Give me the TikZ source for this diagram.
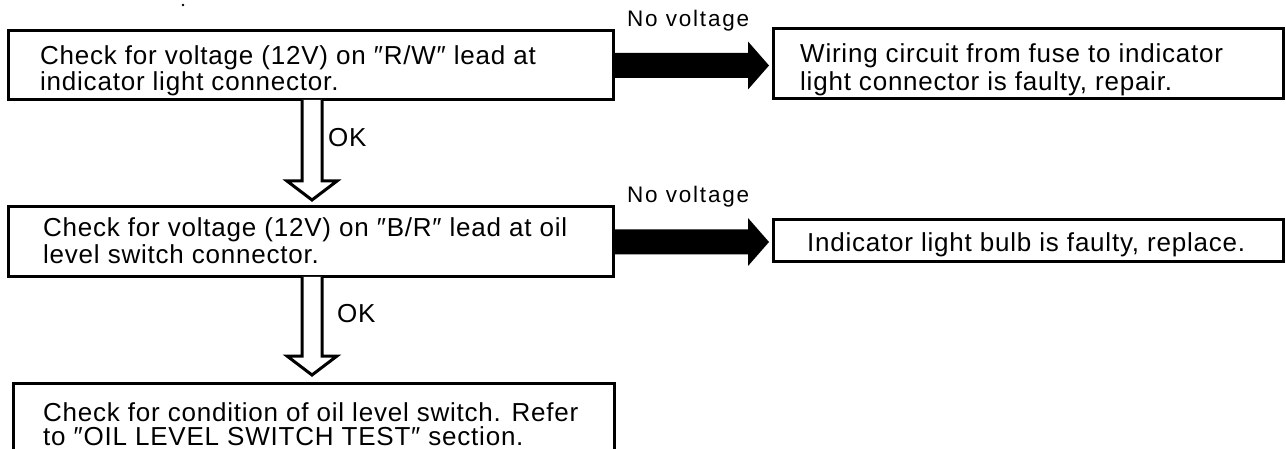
\documentclass[tikz,border=0pt]{standalone}
\usepackage{fontspec}
\setmainfont{Liberation Sans}[LetterSpace=3]
\usetikzlibrary{calc}
\newcommand\mfs{\fontsize{26pt}{28pt}\selectfont}
\newcommand\lfs{\fontsize{22.5pt}{24pt}\selectfont\addfontfeatures{LetterSpace=8}}
\newcommand\hollowarr[2]{\draw[hollow] ([xshift=-10pt]#1) -- ([xshift=-10pt,yshift=19pt]#2) -- ([xshift=-25pt,yshift=19pt]#2) -- (#2) -- ([xshift=25pt,yshift=19pt]#2) -- ([xshift=10pt,yshift=19pt]#2) -- ([xshift=10pt]#1);}
\newcommand\thickarr[2]{\fill ([yshift=12.5pt]#1) -- ([xshift=-21pt,yshift=12.5pt]#2) -- ([xshift=-21pt,yshift=24pt]#2) -- (#2) -- ([xshift=-21pt,yshift=-24pt]#2) -- ([xshift=-21pt,yshift=-12.5pt]#2) -- ([yshift=-12.5pt]#1) -- cycle;}
\begin{document}
\begin{tikzpicture}[x=1pt,y=-1pt,
  box/.style={draw, line width=3pt, inner sep=0pt, outer sep=0pt, anchor=north west},
  txt/.style={anchor=base west, inner sep=0pt, font=\mfs},
  lbl/.style={anchor=base west, inner sep=0pt, font=\lfs},
  hollow/.style={draw, line width=3pt, fill=white, line join=miter}]
\useasboundingbox (0,0) rectangle (1286,449);
\clip (0,0) rectangle (1286,449);
\fill (183,5) circle (1.3pt);
% boxes
\node[box, minimum width=605pt, minimum height=69pt] (b1) at (8,31) {};
\node[box, minimum width=510pt, minimum height=70pt] (b2) at (773,29) {};
\node[box, minimum width=605pt, minimum height=70pt] (b3) at (8,207) {};
\node[box, minimum width=510pt, minimum height=42pt] (b4) at (773,220) {};
\node[box, minimum width=601pt, minimum height=120pt] (b5) at (13,383) {};
% texts
\node[txt] (t1a) at (40,65) {Check for voltage (12V) on ″R/W″ lead at};
\node[txt] (t1b) at (40,91) {indicator light connector.};
\node[txt] (t2a) at (800,63) {Wiring circuit from fuse to indicator};
\node[txt] (t2b) at (800,91) {light connector is faulty, repair.};
\node[txt] (t3a) at (43,237) {Check for voltage (12V) on ″B/R″ lead at oil};
\node[txt] (t3b) at (43,264) {level switch connector.};
\node[txt] (t4) at (807,252) {Indicator light bulb is faulty, replace.};
\node[txt] (t5a) at (43,421) {Check for condition of oil level switch. Refer};
\node[txt] (t5b) at (43,445) {to ″OIL LEVEL SWITCH TEST″ section.};
\node[lbl] (nv1) at (627,27) {No voltage};
\node[lbl] (nv2) at (627,203) {No voltage};
\node[txt] (ok1) at (328,147) {OK};
\node[txt] (ok2) at (337,323) {OK};
% connectors
\coordinate (ax) at (312,0);
\coordinate (d1s) at (b1.south -| ax);
\coordinate (d1e) at ($(b3.north -| ax)+(0pt,7pt)$);
\coordinate (d2s) at (b3.south -| ax);
\coordinate (d2e) at ($(b5.north -| ax)+(0pt,8pt)$);
\hollowarr{d1s}{d1e}
\hollowarr{d2s}{d2e}
\coordinate (h1e) at ($(b1.east -| b2.west)+(-4pt,0pt)$);
\coordinate (h2e) at ($(b3.east -| b4.west)+(-4pt,0pt)$);
\thickarr{b1.east}{h1e}
\thickarr{b3.east}{h2e}
\end{tikzpicture}
\end{document}
